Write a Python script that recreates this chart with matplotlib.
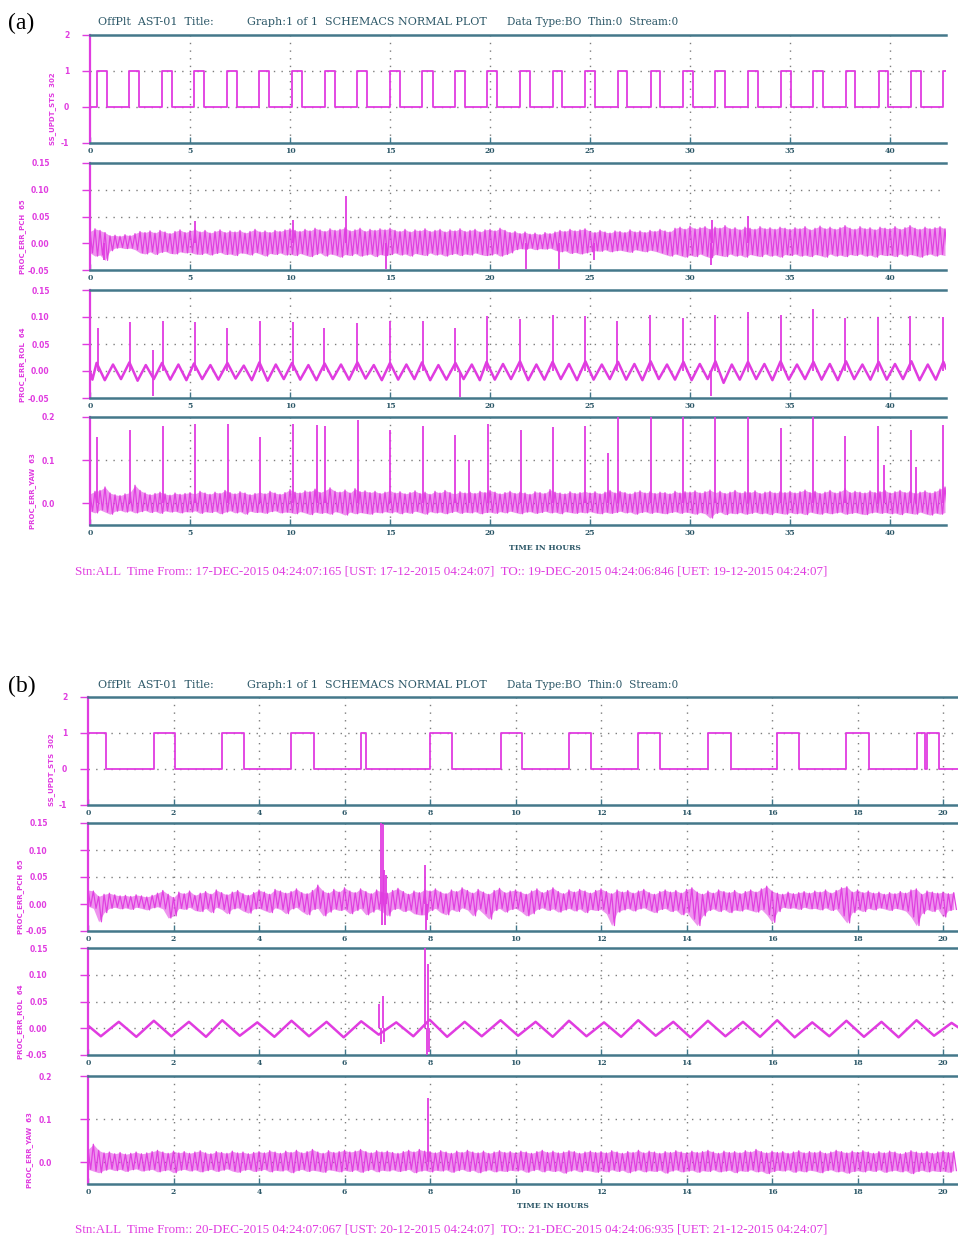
import numpy as np
import matplotlib
matplotlib.use("Agg")
import matplotlib.pyplot as plt

# ---------------------------------------------------------------- data (a)
SQ_A_START = 0
SQ_A_EDGES = [0.33, 0.87, 1.97, 2.47, 3.6, 4.1, 5.2, 5.7, 6.87, 7.37, 8.47, 8.97,
              10.1, 10.6, 11.73, 12.23, 13.37, 13.83, 15.0, 15.5, 16.6, 17.13,
              18.27, 18.77, 19.83, 20.33, 21.5, 22.0, 23.13, 23.6, 24.77, 25.23,
              26.4, 26.87, 28.03, 28.5, 29.67, 30.13, 31.27, 31.77, 32.9, 33.4,
              34.53, 35.03, 36.17, 36.63, 37.8, 38.27, 39.43, 39.9, 41.07, 41.57,
              42.67]

# per-bin max / min in thousandths, one bin every 0.25 h
PCH_A_HI = [22, 27, 24, 20, 14, 15, 13, 16, 14, 18, 22, 20, 23, 19, 24, 21, 18, 22, 25, 20,
            23, 26, 21, 24, 19, 22, 25, 20, 23, 21, 24, 19, 22, 26, 21, 23, 20, 24, 22, 25,
            27, 24, 22, 26, 23, 28, 25, 22, 27, 24, 26, 29, 23, 25, 28, 22, 26, 24, 27, 25,
            28, 24, 22, 26, 21, 25, 23, 27, 22, 24, 26, 21, 25, 23, 27, 22, 24, 26, 21, 25,
            26, 23, 28, 24, 20, 22, 18, 21, 17, 19, 16, 20, 18, 21, 24, 22, 26, 23, 25, 27,
            22, 20, 24, 21, 19, 23, 22, 20, 25, 21, 23, 20, 24, 22, 26, 23, 21, 28, 30, 26,
            32, 27, 29, 31, 26, 30, 28, 33, 27, 29, 25, 30, 28, 26, 31, 27, 29, 26, 30, 28,
            26, 29, 27, 31, 25, 28, 32, 27, 30, 26, 29, 33, 28, 26, 31, 27, 29, 25, 30, 28,
            27, 31, 26, 29, 33, 28, 26, 30, 27, 29, 31, 27]
PCH_A_LO = [-18, -24, -22, -32, -14, -9, -8, -10, -9, -12, -18, -20, -16, -21, -17, -15, -19, -20, -16, -18,
            -17, -20, -21, -18, -22, -19, -17, -21, -20, -23, -18, -19, -22, -17, -20, -24, -19, -21, -18, -22,
            -20, -23, -19, -22, -25, -21, -18, -24, -20, -22, -26, -21, -23, -19, -24, -22, -20, -25, -21, -23,
            -21, -18, -22, -20, -24, -19, -21, -23, -18, -22, -20, -24, -21, -19, -23, -20, -22, -18, -21, -23,
            -22, -19, -24, -21, -18, -12, -10, -11, -9, -12, -10, -11, -9, -13, -16, -14, -19, -17, -20, -18,
            -16, -14, -15, -12, -16, -14, -13, -15, -17, -12, -14, -16, -13, -15, -18, -21, -24, -20, -23, -26,
            -22, -25, -20, -24, -27, -21, -23, -25, -20, -24, -22, -26, -21, -23, -25, -20, -24, -22, -26, -21,
            -23, -20, -24, -22, -25, -21, -23, -26, -20, -24, -22, -25, -21, -23, -20, -24, -22, -26, -21, -23,
            -22, -25, -20, -24, -21, -23, -26, -22, -20, -24, -21, -23]
PCH_A_SPK_T = [0.7, 5.25, 10.17, 12.8, 14.8, 21.8, 23.47, 25.2, 31.03, 31.1, 32.9]
PCH_A_SPK_V = [-32, 41, 44, 88, -48, -48, -48, -31, -41, 44, 51]

ROL_A_T = [0.0, 0.12, 0.33, 0.74, 1.15, 1.55, 1.97, 2.38, 2.79, 3.19, 3.6, 4.01, 4.42, 4.82,
           5.2, 5.61, 6.02, 6.42, 6.87, 7.28, 7.69, 8.09, 8.47, 8.88, 9.29, 9.69,
           10.1, 10.51, 10.92, 11.32, 11.73, 12.14, 12.55, 12.95, 13.37, 13.78, 14.19, 14.59,
           15.0, 15.41, 15.82, 16.22, 16.6, 17.01, 17.42, 17.82, 18.27, 18.68, 19.09, 19.49,
           19.83, 20.24, 20.65, 21.05, 21.5, 21.91, 22.32, 22.72, 23.13, 23.54, 23.95, 24.35,
           24.77, 25.18, 25.59, 25.99, 26.4, 26.81, 27.22, 27.62, 28.03, 28.44, 28.85, 29.25,
           29.67, 30.08, 30.49, 30.89, 31.27, 31.68, 32.09, 32.49, 32.9, 33.31, 33.72, 34.12,
           34.53, 34.94, 35.35, 35.75, 36.17, 36.58, 36.99, 37.39, 37.8, 38.21, 38.62, 39.02,
           39.43, 39.84, 40.25, 40.65, 41.07, 41.48, 41.89, 42.29, 42.67, 42.8]
ROL_A_V = [0, -16, 15, -17, 12, -15, 16, -18, 11, -15, 15, -16, 12, -17,
           14, -15, 11, -16, 15, -14, 10, -17, 16, -18, 12, -15,
           15, -16, 11, -17, 14, -15, 12, -16, 16, -14, 11, -17,
           15, -16, 12, -15, 16, -17, 11, -16, 15, -15, 12, -17,
           17, -16, 13, -15, 18, -17, 12, -16, 17, -15, 13, -17,
           18, -16, 12, -15, 17, -16, 13, -17, 18, -15, 12, -16,
           17, -17, 13, -15, 18, -22, 12, -16, 17, -15, 13, -17,
           18, -16, 12, -15, 17, -16, 13, -17, 18, -15, 12, -16,
           17, -16, 13, -15, 18, -17, 12, -16, 17, 5]
ROL_A_SPK_T = [0.38, 2.0, 3.17, 3.17, 3.63, 5.25, 6.87, 8.5, 10.13, 11.7, 13.37, 15.0,
               16.63, 18.27, 18.5, 19.87, 21.5, 23.13, 24.77, 26.37, 28.0, 29.63,
               31.07, 31.27, 32.9, 34.53, 36.13, 37.77, 39.4, 41.0, 42.63]
ROL_A_SPK_V = [80, 90, 38, -46, 93, 90, 79, 93, 90, 79, 88, 93,
               93, 80, -49, 101, 96, 104, 101, 93, 104, 98,
               -46, 104, 110, 104, 115, 99, 100, 101, 100]

YAW_A_HI = [22, 28, 30, 38, 24, 20, 18, 22, 25, 42, 30, 24, 20, 23, 26, 22, 19, 24, 21, 23,
            25, 22, 28, 24, 21, 26, 23, 30, 25, 22, 27, 24, 20, 23, 26, 22, 28, 24, 21, 25,
            32, 26, 24, 29, 27, 33, 25, 30, 36, 28, 26, 31, 24, 34, 27, 29, 25, 28, 23, 26,
            30, 24, 27, 22, 25, 29, 23, 26, 21, 28, 24, 30, 25, 22, 27, 24, 26, 23, 28, 25,
            30, 26, 22, 25, 28, 23, 26, 24, 21, 27, 25, 23, 32, 26, 24, 22, 27, 23, 25, 28,
            24, 27, 22, 26, 30, 24, 28, 25, 22, 26, 29, 24, 27, 23, 26, 25, 22, 28, 24, 27,
            26, 29, 24, 27, 31, 25, 28, 23, 26, 30, 24, 27, 25, 29, 23, 26, 28, 24, 27, 25,
            28, 24, 27, 31, 25, 28, 23, 26, 30, 24, 27, 34, 25, 28, 26, 24, 29, 25, 27, 30,
            24, 27, 30, 25, 28, 23, 26, 29, 24, 27, 33, 38]
YAW_A_LO = [-18, -22, -15, -20, -25, -18, -16, -20, -17, -22, -19, -16, -21, -18, -23, -17, -20, -18, -22, -19,
            -20, -17, -23, -19, -21, -18, -24, -20, -17, -22, -19, -25, -18, -21, -20, -23, -19, -17, -22, -20,
            -21, -24, -19, -22, -26, -20, -23, -21, -25, -19, -22, -27, -20, -24, -21, -23, -25, -20, -22, -19,
            -22, -19, -24, -20, -23, -18, -21, -25, -19, -22, -20, -24, -21, -18, -23, -20, -22, -19, -24, -21,
            -20, -23, -19, -22, -18, -21, -24, -20, -19, -23, -21, -18, -22, -20, -24, -19, -21, -23, -20, -22,
            -19, -22, -24, -20, -23, -21, -18, -22, -20, -25, -21, -19, -23, -20, -22, -24, -21, -19, -23, -20,
            -22, -25, -21, -24, -34, -23, -20, -26, -22, -24, -21, -25, -23, -20, -24, -22, -26, -21, -23, -25,
            -21, -24, -22, -26, -20, -23, -25, -21, -24, -22, -20, -25, -23, -21, -24, -26, -22, -20, -23, -21,
            -24, -22, -26, -21, -23, -25, -20, -24, -27, -22, -25, -21]
YAW_A_SPK_T = [0.37, 2.0, 3.63, 5.27, 6.9, 8.5, 10.13, 11.33, 11.77, 13.4, 15.0, 16.63,
               18.23, 18.93, 19.9, 21.53, 23.13, 24.77, 25.9, 26.4, 28.03, 29.63, 31.27,
               32.9, 34.53, 36.13, 37.77, 39.4, 39.7, 41.03, 41.3, 42.63]
YAW_A_SPK_V = [154, 171, 179, 184, 184, 154, 184, 181, 179, 192, 171, 179,
               159, 100, 184, 169, 177, 179, 116, 200, 200, 200, 200,
               200, 175, 200, 156, 179, 89, 171, 85, 181]

# ---------------------------------------------------------------- data (b)
SQ_B_START = 1
SQ_B_EDGES = [0.41, 1.54, 2.04, 3.14, 3.66, 4.76, 5.28, 6.39, 6.50, 7.99, 8.51, 9.65,
              10.15, 11.25, 11.77, 12.87, 13.39, 14.5, 15.03, 16.12, 16.63, 17.74,
              18.27, 19.38, 19.57, 19.63, 19.91]

# per-bin max / min in thousandths, one bin every 0.125 h
PCH_B_HI = [26, 24, 14, 18, 20, 17, 15, 16, 14, 17, 15, 13, 16, 20, 25, 18,
            12, 22, 19, 24, 16, 20, 23, 18, 26, 21, 17, 22, 25, 19, 16, 21,
            26, 22, 18, 27, 24, 20, 23, 28, 21, 19, 25, 35, 24, 20, 27, 22,
            30, 24, 21, 28, 23, 19, 26, 22, 20, 25, 29, 23, 18, 24, 21, 27,
            24, 28, 22, 19, 26, 23, 30, 25, 20, 27, 22, 18, 25, 29, 21, 24,
            26, 22, 18, 24, 28, 21, 25, 30, 23, 19, 26, 22, 27, 24, 20, 25,
            28, 23, 19, 26, 22, 25, 20, 24, 27, 21, 18, 23, 26, 22, 25, 20,
            27, 30, 22, 18, 24, 20, 26, 23, 21, 25, 19, 23, 26, 22, 28, 33,
            24, 20, 18, 22, 19, 21, 23, 20, 24, 22, 26, 20, 25, 30, 32, 22,
            26, 21, 24, 20, 22, 18, 21, 19, 23, 20, 26, 28, 18, 24, 22, 20,
            22, 19, 21]
PCH_B_LO = [-4, -8, -33, -16, -8, -6, -9, -7, -10, -6, -8, -11, -7, -5, -9, -26,
            -22, -8, -10, -6, -12, -14, -8, -16, -6, -10, -18, -9, -7, -13, -17, -9,
            -8, -12, -16, -7, -10, -18, -9, -6, -14, -20, -10, -8, -22, -15, -9, -12,
            -10, -18, -12, -8, -20, -15, -9, -14, -22, -10, -8, -14, -11, -18, -20, -20,
            -12, -8, -16, -20, -10, -14, -7, -11, -22, -9, -18, -28, -12, -8, -15, -10,
            -8, -14, -22, -18, -10, -7, -12, -9, -15, -11, -8, -13, -9, -16, -10, -12,
            -10, -18, -40, -15, -11, -8, -13, -9, -7, -12, -16, -10, -8, -14, -11, -20,
            -15, -28, -40, -22, -12, -9, -14, -10, -16, -11, -13, -9, -12, -15, -10, -20,
            -34, -14, -6, -8, -7, -10, -6, -9, -8, -11, -7, -12, -9, -22, -35, -16,
            -10, -14, -8, -11, -7, -9, -12, -8, -10, -13, -24, -40, -18, -10, -14, -9,
            -24, -12, -10]
PCH_B_SPK_T = [6.86, 6.88, 6.9, 6.93, 6.95, 6.97, 7.88, 7.9, 7.93]
PCH_B_SPK_V = [150, -38, 148, 63, -38, 54, 72, -48, -30]

ROL_B_T = [0.0, 0.3, 0.72, 1.13, 1.54, 1.95, 2.36, 2.76, 3.14, 3.55, 3.96, 4.36,
           4.76, 5.17, 5.58, 5.98, 6.39, 6.80, 7.21, 7.61, 7.99, 8.40, 8.81, 9.21,
           9.65, 10.06, 10.47, 10.87, 11.25, 11.66, 12.07, 12.47, 12.87, 13.28, 13.69, 14.09,
           14.5, 14.91, 15.32, 15.72, 16.12, 16.53, 16.94, 17.34, 17.74, 18.15, 18.56, 18.96,
           19.38, 19.79, 20.2, 20.35]
ROL_B_V = [5, -15, 12, -16, 14, -15, 12, -16, 15, -14, 11, -16,
           14, -15, 12, -17, 13, -12, 11, -15, 16, -16, 12, -15,
           15, -14, 12, -16, 14, -15, 11, -16, 15, -14, 12, -17,
           14, -15, 12, -16, 15, -17, 11, -15, 14, -16, 12, -17,
           15, -14, 10, 2]
ROL_B_SPK_T = [6.8, 6.85, 6.9, 6.92, 7.88, 7.92, 7.95, 7.97]
ROL_B_SPK_V = [45, -30, 60, -25, 155, -50, 120, -45]

YAW_B_HI = [30, 42, 28, 22, 24, 20, 23, 19, 21, 24, 20, 22, 25, 28, 24, 21,
            26, 22, 25, 21, 24, 27, 22, 20, 25, 23, 21, 26, 22, 24, 20, 23,
            25, 22, 27, 24, 21, 26, 23, 28, 22, 25, 30, 24, 21, 27, 23, 25,
            28, 24, 26, 30, 25, 22, 27, 24, 26, 23, 21, 25, 28, 24, 30, 26,
            25, 22, 27, 24, 21, 26, 23, 28, 24, 22, 26, 21, 24, 27, 23, 25,
            22, 26, 24, 21, 25, 28, 23, 26, 22, 24, 27, 25, 21, 24, 26, 23,
            25, 22, 27, 24, 21, 25, 23, 28, 22, 26, 24, 21, 25, 23, 27, 24,
            22, 26, 23, 25, 28, 24, 21, 26, 23, 25, 22, 27, 24, 30, 25, 22,
            26, 23, 25, 21, 24, 27, 22, 25, 23, 26, 21, 24, 28, 25, 22, 26,
            23, 27, 24, 21, 25, 22, 26, 24, 20, 23, 27, 24, 22, 25, 21, 24,
            26, 23, 25]
YAW_B_LO = [-16, -20, -24, -18, -15, -19, -16, -21, -17, -15, -20, -18, -16, -22, -19, -17,
            -24, -18, -16, -20, -17, -22, -19, -16, -21, -18, -15, -20, -23, -18, -16, -21,
            -19, -16, -22, -18, -20, -17, -24, -19, -16, -21, -18, -20, -23, -17, -19, -22,
            -18, -21, -17, -23, -19, -16, -22, -18, -20, -17, -21, -19, -16, -24, -20, -18,
            -22, -18, -20, -17, -23, -19, -16, -21, -18, -24, -20, -17, -22, -19, -21, -18,
            -20, -17, -23, -19, -16, -22, -18, -21, -19, -25, -20, -17, -22, -18, -20, -23,
            -19, -22, -17, -21, -18, -24, -20, -17, -22, -19, -21, -18, -25, -20, -17, -22,
            -20, -18, -23, -19, -21, -17, -22, -20, -18, -24, -19, -21, -17, -22, -20, -26,
            -21, -18, -20, -17, -23, -19, -22, -18, -20, -24, -19, -17, -22, -20, -25, -21,
            -19, -22, -18, -21, -17, -23, -20, -18, -22, -19, -26, -21, -18, -22, -19, -21,
            -20, -23, -19]
YAW_B_SPK_T = [7.95]
YAW_B_SPK_V = [150]

# ---------------------------------------------------------------- labels
X_TICKS_A = [0, 5, 10, 15, 20, 25, 30, 35, 40]
X_TICKS_B = [0, 2, 4, 6, 8, 10, 12, 14, 16, 18, 20]
SQ_TICKS = [2, 1, 0, -1]
SQ_LABELS = ["2", "1", "0", "-1"]
ERR_TICKS = [0.15, 0.10, 0.05, 0.00, -0.05]
ERR_LABELS = ["0.15", "0.10", "0.05", "0.00", "-0.05"]
YAW_TICKS = [0.2, 0.1, 0.0]
YAW_LABELS = ["0.2", "0.1", "0.0"]
NAMES = ["SS_UPDT_STS  302", "PROC_ERR_PCH  65", "PROC_ERR_ROL  64", "PROC_ERR_YAW  63"]
HEAD1 = "OffPlt  AST-01  Title:"
HEAD2 = "Graph:1 of 1  SCHEMACS NORMAL PLOT"
HEAD3 = "Data Type:BO  Thin:0  Stream:0"
FOOT_A = ("Stn:ALL  Time From:: 17-DEC-2015 04:24:07:165 [UST: 17-12-2015 04:24:07]  "
          "TO:: 19-DEC-2015 04:24:06:846 [UET: 19-12-2015 04:24:07]")
FOOT_B = ("Stn:ALL  Time From:: 20-DEC-2015 04:24:07:067 [UST: 20-12-2015 04:24:07]  "
          "TO:: 21-DEC-2015 04:24:06:935 [UET: 21-12-2015 04:24:07]")

# ---------------------------------------------------------------- drawing
W, H = 958, 1236
fig = plt.figure(figsize=(W / 100, H / 100), dpi=100)
MAG = "#e03ce0"
TEAL = "#44788a"
HEADC = "#2d5868"
GRIDC = "#7d7d7d"
SERIF = ["Liberation Serif", "DejaVu Serif"]


def add_ax(left, top, right, bottom):
    return fig.add_axes([left / W, 1 - bottom / H, (right - left) / W, (bottom - top) / H])


def style(ax, xlim, ylim, xticks, yticks, ylabels, ypad, grid_y):
    ax.set_xlim(*xlim)
    ax.set_ylim(*ylim)
    ax.spines["right"].set_visible(False)
    ax.spines["left"].set_color(MAG)
    ax.spines["left"].set_linewidth(1.6)
    for s in ("top", "bottom"):
        ax.spines[s].set_color(TEAL)
        ax.spines[s].set_linewidth(1.8)
    ax.set_xticks(xticks)
    ax.set_xticklabels([str(v) for v in xticks], fontsize=5.5, color=HEADC,
                       fontweight="bold", family="DejaVu Serif")
    ax.tick_params(axis="x", direction="in", length=4, width=1.0, color=TEAL, pad=3)
    ax.set_yticks(yticks)
    ax.set_yticklabels(ylabels, fontsize=5.5, color=MAG, fontweight="bold",
                       family="DejaVu Sans")
    ax.tick_params(axis="y", direction="out", length=6, width=1.0, color=MAG, pad=ypad)
    for xv in xticks[1:]:
        ax.axvline(xv, color=GRIDC, lw=1.0, ls=(0, (1, 4.5)), zorder=0)
    for yv in grid_y:
        ax.axhline(yv, color=GRIDC, lw=1.0, ls=(0, (1, 4.5)), zorder=0)


def square(ax, start, edges, xmax):
    times = [0.0] + list(edges) + [xmax]
    levels = []
    lev = start
    for _ in range(len(edges) + 1):
        levels.append(lev)
        lev = 1 - lev
    levels.append(levels[-1])
    ax.step(times, levels, where="post", color=MAG, lw=1.3, zorder=3)


def band(ax, hi, lo, step):
    # min/max decimated trace: envelope filled lightly, each bin drawn max -> min
    n = min(len(hi), len(lo))
    hi_v = np.array(hi[:n]) / 1000.0
    lo_v = np.array(lo[:n]) / 1000.0
    x = np.arange(n) * step
    ax.fill_between(x, lo_v, hi_v, color=MAG, lw=0, alpha=0.55, zorder=2)
    xs, ys = [], []
    for i in range(n):
        xs += [x[i], x[i] + step / 2]
        ys += [hi_v[i], lo_v[i]]
    ax.plot(xs, ys, color=MAG, lw=0.9, zorder=3, alpha=0.95)


def spikes(ax, t, v):
    v = np.array(v) / 1000.0
    ax.vlines(t, 0.0, v, color=MAG, lw=1.3, zorder=4)


def panel(top_y, left, right, xmax, xticks, axes_y, sq_start, sq_edges,
          pch_hi, pch_lo, pch_st, pch_sv, rol_t, rol_v, rol_st, rol_sv,
          yaw_hi, yaw_lo, yaw_st, yaw_sv, step, label_x, label_y, tick_pads,
          foot, foot_y, time_xy, tag):
    fig.text(8 / W, 1 - (top_y + 1) / H, tag, fontsize=17, family=SERIF, va="center", ha="left")
    fig.text(98 / W, 1 - top_y / H, HEAD1, fontsize=8, family="DejaVu Serif", color=HEADC, va="center")
    fig.text(247 / W, 1 - top_y / H, HEAD2, fontsize=8, family="DejaVu Serif", color=HEADC, va="center")
    fig.text(507 / W, 1 - top_y / H, HEAD3, fontsize=7.6, family="DejaVu Serif", color=HEADC, va="center")

    (t1, b1), (t2, b2), (t3, b3), (t4, b4) = axes_y
    ax1 = add_ax(left, t1, right, b1)
    style(ax1, (0, xmax), (-1, 2), xticks, SQ_TICKS, SQ_LABELS, tick_pads[0], [1, 0])
    square(ax1, sq_start, sq_edges, xmax)

    ax2 = add_ax(left, t2, right, b2)
    style(ax2, (0, xmax), (-0.05, 0.15), xticks, ERR_TICKS, ERR_LABELS, tick_pads[1], [0.10, 0.05])
    band(ax2, pch_hi, pch_lo, step)
    spikes(ax2, pch_st, pch_sv)

    ax3 = add_ax(left, t3, right, b3)
    style(ax3, (0, xmax), (-0.05, 0.15), xticks, ERR_TICKS, ERR_LABELS, tick_pads[2], [0.10, 0.05, 0.0])
    ax3.plot(rol_t, np.array(rol_v) / 1000.0, color=MAG, lw=1.8, zorder=3)
    spikes(ax3, rol_st, rol_sv)

    ax4 = add_ax(left, t4, right, b4)
    style(ax4, (0, xmax), (-0.05, 0.2), xticks, YAW_TICKS, YAW_LABELS, tick_pads[3], [0.1, 0.0])
    band(ax4, yaw_hi, yaw_lo, step)
    spikes(ax4, yaw_st, yaw_sv)

    for name, lx, ly in zip(NAMES, label_x, label_y):
        fig.text(lx / W, 1 - ly / H, name, rotation=90, fontsize=5, color=MAG,
                 fontweight="bold", ha="center", va="center")

    fig.text(time_xy[0] / W, 1 - time_xy[1] / H, "TIME IN HOURS", fontsize=5.5,
             color=HEADC, fontweight="bold", family="DejaVu Serif", ha="center", va="center")
    fig.text(75 / W, 1 - foot_y / H, foot, fontsize=9.4, family=SERIF, color=MAG,
             va="center", ha="left")


panel(22, 90, 946, 42.8, X_TICKS_A,
      [(35, 143), (163, 270), (290, 398), (417, 525)],
      SQ_A_START, SQ_A_EDGES, PCH_A_HI, PCH_A_LO, PCH_A_SPK_T, PCH_A_SPK_V,
      ROL_A_T, ROL_A_V, ROL_A_SPK_T, ROL_A_SPK_V,
      YAW_A_HI, YAW_A_LO, YAW_A_SPK_T, YAW_A_SPK_V, 0.25,
      [53, 23, 23, 33], [109, 237, 365, 491], [9, 23, 23, 19],
      FOOT_A, 571, (545, 548), "(a)")

panel(685, 88, 958, 20.35, X_TICKS_B,
      [(697, 805), (823, 931), (948, 1055), (1076, 1184)],
      SQ_B_START, SQ_B_EDGES, PCH_B_HI, PCH_B_LO, PCH_B_SPK_T, PCH_B_SPK_V,
      ROL_B_T, ROL_B_V, ROL_B_SPK_T, ROL_B_SPK_V,
      YAW_B_HI, YAW_B_LO, YAW_B_SPK_T, YAW_B_SPK_V, 0.125,
      [52, 21, 21, 30], [770, 897, 1022, 1150], [9, 23, 23, 20],
      FOOT_B, 1229, (553, 1206), "(b)")

fig.savefig("out.png", dpi=100)
